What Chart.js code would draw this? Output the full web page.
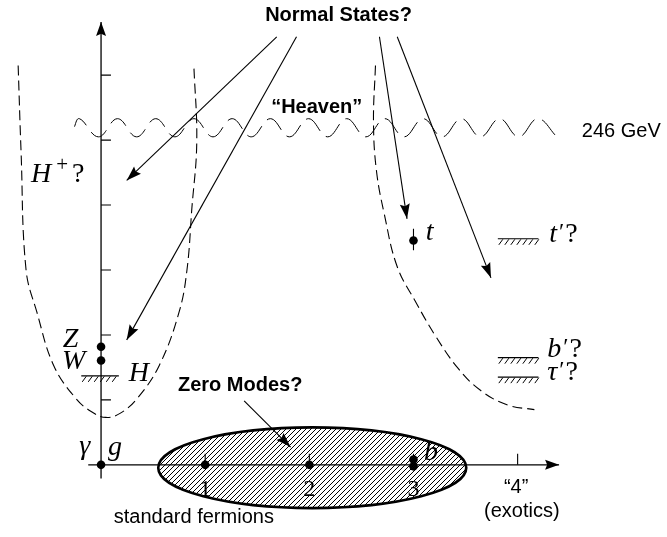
<!DOCTYPE html>
<html lang="en">
<head>
<meta charset="UTF-8">
<title>Normal States and Zero Modes</title>
<script src="https://cdn.jsdelivr.net/npm/chart.js"></script>
<style>
  html, body { margin: 0; padding: 0; background: #fff; }
</style>
</head>
<body>
<canvas id="diagram" width="667" height="537"></canvas>
<script>
// x = generation number, y = mass level (in units of the axis ticks)
const yTicks = [1, 2, 3, 4, 5, 6];
const xTicks = [1, 2, 3, 4];
const genNames = ['1', '2', '3'];

// "246 GeV" wiggly line
const waveX = [-0.265, -0.209, -0.025, 0.158, 0.342, 0.525, 0.709, 0.892, 1.075, 1.259, 1.442, 1.626, 1.809,
               1.992, 2.176, 2.359, 2.543, 2.726, 2.909, 3.093, 3.276, 3.460, 3.643, 3.827, 4.010, 4.193, 4.377];
const waveY = [5.17, 5.33, 5.05, 5.33, 5.05, 5.33, 5.05, 5.33, 5.05, 5.33, 5.05, 5.33, 5.05,
               5.33, 5.05, 5.33, 5.05, 5.33, 5.05, 5.33, 5.05, 5.33, 5.05, 5.33, 5.05, 5.33, 5.05];

// dashed potential wells
const wellLX = [-0.796, -0.768, -0.720, -0.616, -0.455, -0.246, -0.095, 0.047, 0.190, 0.351, 0.559, 0.749, 0.825, 0.872, 0.919, 0.891];
const wellLY = [6.15, 4.82, 3.00, 2.35, 1.53, 1.03, 0.82, 0.73, 0.80, 1.03, 1.53, 2.35, 3.00, 3.95, 4.97, 6.15];
const wellRX = [2.635, 2.616, 2.645, 2.720, 2.844, 3.024, 3.213, 3.431, 3.649, 3.905, 4.161];
const wellRY = [6.15, 5.27, 4.52, 3.86, 3.05, 2.50, 1.98, 1.48, 1.14, 0.92, 0.85];

// arrows from "Normal States?" and "Zero Modes?"
const arrowFromX = [1.687, 1.877, 2.673, 2.844, 1.374];
const arrowFromY = [6.591, 6.591, 6.591, 6.591, 0.985];
const arrowToX   = [0.246, 0.246, 2.938, 3.744, 1.820];
const arrowToY   = [4.379, 1.924, 3.788, 2.879, 0.273];

// observed states (dots): Z, W, photon/gluon, gen 1, gen 2, b (two), top
const dotX = [0, 0, 0, 1, 2, 3, 3, 3.0];
const dotY = [1.818, 1.606, 0, 0, 0, 0.083, -0.023, 3.455];

// hatched levels (bounds): H, t', b', tau'
const levelX0 = [-0.19, 3.81, 3.81, 3.81];
const levelX1 = [0.171, 4.20, 4.20, 4.20];
const levelY  = [1.37, 3.48, 1.65, 1.35];

// zero-mode ellipse: centre and radii
const ellipseC = [2.028, -0.045];
const ellipseR = [1.479, 0.621];

const X_MIN = -0.929, X_MAX = 5.393, Y_MIN = -1.045, Y_MAX = 7.091;

const SANS = '"Liberation Sans", Arial, Helvetica, sans-serif';
const SERIF = '"Liberation Serif", "Times New Roman", serif';

const sansLabels = [
  { text: 'Normal States?', x: 2.280, y: 6.833, bold: true, align: 'center' },
  { text: '\u201CHeaven\u201D', x: 2.071, y: 5.424, bold: true, align: 'center' },
  { text: '246 GeV', x: 4.616, y: 5.045, align: 'left' },
  { text: 'Zero Modes?', x: 1.336, y: 1.136, bold: true, align: 'center' },
  { text: 'standard fermions', x: 0.891, y: -0.894, align: 'center' },
  { text: '\u201C4\u201D', x: 3.986, y: -0.44, align: 'center' },
  { text: '(exotics)', x: 4.04, y: -0.803, align: 'center' }
];

const mathLabels = [
  { x: -0.673, y: 4.36, align: 'left', parts: [['H', 'i', 5], ['+', 'sup', 4], ['?', 'r', 0]] },
  { x: -0.218, y: 1.818, align: 'right', parts: [['Z', 'i', 0]] },
  { x: -0.152, y: 1.47, align: 'right', parts: [['W', 'i', 0]] },
  { x: 0.265, y: 1.288, align: 'left', parts: [['H', 'i', 0]] },
  { x: -0.104, y: 0.17, align: 'right', parts: [['\u03B3', 'i', 0]] },
  { x: 0.066, y: 0.15, align: 'left', parts: [['g', 'i', 0]] },
  { x: 3.118, y: 3.455, align: 'left', parts: [['t', 'i', 0]] },
  { x: 4.303, y: 3.424, align: 'left', parts: [['t', 'i', 2], ['\u2032', 'p', 1], ['?', 'r', 0]] },
  { x: 4.284, y: 1.667, align: 'left', parts: [['b', 'i', 2], ['\u2032', 'p', 1], ['?', 'r', 0]] },
  { x: 4.284, y: 1.303, align: 'left', parts: [['\u03C4', 'i', 2], ['\u2032', 'p', 1], ['?', 'r', 0]] },
  { x: 3.100, y: 0.076, align: 'left', parts: [['b', 'i', 0]] }
];

const zip = (xs, ys) => xs.map((x, i) => ({ x: x, y: ys[i] }));

function seg(points, extra) {
  return Object.assign({
    type: 'line', data: points, borderColor: '#000', borderWidth: 1.1,
    pointRadius: 0, tension: 0, fill: false
  }, extra || {});
}

const datasets = [];
// axes
datasets.push(seg([{ x: 0, y: -0.21 }, { x: 0, y: 6.82 }], { borderWidth: 1.3, arrow: { len: 14, half: 5 } }));
datasets.push(seg([{ x: -0.123, y: 0 }, { x: 4.398, y: 0 }], { borderWidth: 1.3, arrow: { len: 14, half: 5 } }));
yTicks.forEach(v => datasets.push(seg([{ x: 0, y: v }, { x: 0.095, y: v }])));
xTicks.forEach(v => datasets.push(seg([{ x: v, y: 0 }, { x: v, y: 0.17 }])));
// wiggle and wells
datasets.push(seg(zip(waveX, waveY), { borderWidth: 1, tension: 0.4, borderDash: [19.7, 8.2], borderDashOffset: -2.7 }));
datasets.push(seg(zip(wellLX, wellLY), { tension: 0.4, borderDash: [10, 5] }));
datasets.push(seg(zip(wellRX, wellRY), { tension: 0.4, borderDash: [10, 5] }));
// arrows
arrowFromX.forEach((x, i) => datasets.push(seg([{ x: x, y: arrowFromY[i] }, { x: arrowToX[i], y: arrowToY[i] }],
  { arrow: { len: 15, half: 5 } })));
// t marker bar
datasets.push(seg([{ x: 3.0, y: 3.303 }, { x: 3.0, y: 3.636 }]));
// hatched levels
levelY.forEach((y, i) => datasets.push(seg([{ x: levelX0[i], y: y }, { x: levelX1[i], y: y }], { hatch: true })));
// dots
datasets.push({
  type: 'scatter', data: zip(dotX, dotY), pointRadius: 4.3, pointBackgroundColor: '#000',
  pointBorderColor: '#000', pointBorderWidth: 0, showLine: false
});

function hatchPattern(ctx) {
  const c = document.createElement('canvas');
  c.width = 5; c.height = 5;
  const p = c.getContext('2d');
  p.strokeStyle = '#000';
  p.lineWidth = 1;
  p.beginPath();
  p.moveTo(0, 5); p.lineTo(5, 0);
  p.moveTo(-1, 1); p.lineTo(1, -1);
  p.moveTo(4, 6); p.lineTo(6, 4);
  p.stroke();
  return ctx.createPattern(c, 'repeat');
}

const ellipsePlugin = {
  id: 'zeroModes',
  beforeDatasetsDraw(chart) {
    const ctx = chart.ctx, sx = chart.scales.x, sy = chart.scales.y;
    ctx.save();
    // generation numbers sit under the hatching
    ctx.fillStyle = '#000';
    ctx.font = '24px ' + SERIF;
    ctx.textAlign = 'center';
    genNames.forEach((g, i) => ctx.fillText(g, sx.getPixelForValue(i + 1), sy.getPixelForValue(-0.485)));
    const cx = sx.getPixelForValue(ellipseC[0]), cy = sy.getPixelForValue(ellipseC[1]);
    const rx = sx.getPixelForValue(ellipseC[0] + ellipseR[0]) - cx;
    const ry = cy - sy.getPixelForValue(ellipseC[1] + ellipseR[1]);
    ctx.beginPath();
    ctx.ellipse(cx, cy, rx, ry, 0, 0, Math.PI * 2);
    ctx.fillStyle = hatchPattern(ctx);
    ctx.fill();
    ctx.lineWidth = 2.6;
    ctx.strokeStyle = '#000';
    ctx.stroke();
    ctx.restore();
  }
};

const marksPlugin = {
  id: 'marks',
  afterDatasetsDraw(chart) {
    const ctx = chart.ctx;
    ctx.save();
    ctx.fillStyle = '#000';
    ctx.strokeStyle = '#000';
    chart.data.datasets.forEach((ds, i) => {
      const pts = chart.getDatasetMeta(i).data;
      if (ds.arrow) {
        const a = pts[pts.length - 2], b = pts[pts.length - 1];
        const ang = Math.atan2(b.y - a.y, b.x - a.x);
        ctx.save();
        ctx.translate(b.x, b.y);
        ctx.rotate(ang);
        ctx.beginPath();
        ctx.moveTo(0, 0);
        ctx.lineTo(-ds.arrow.len, -ds.arrow.half);
        ctx.lineTo(-ds.arrow.len * 0.85, 0);
        ctx.lineTo(-ds.arrow.len, ds.arrow.half);
        ctx.closePath();
        ctx.fill();
        ctx.restore();
      }
      if (ds.hatch) {
        const a = pts[0], b = pts[1];
        ctx.lineWidth = 1;
        ctx.beginPath();
        for (let x = a.x + 5; x <= b.x + 0.5; x += 6) {
          ctx.moveTo(x, a.y + 0.5);
          ctx.lineTo(x - 4, a.y + 6);
        }
        ctx.stroke();
      }
    });
    ctx.restore();
  },
  afterDraw(chart) {
    const ctx = chart.ctx, sx = chart.scales.x, sy = chart.scales.y;
    ctx.save();
    ctx.fillStyle = '#000';
    ctx.textBaseline = 'alphabetic';
    sansLabels.forEach(l => {
      ctx.font = (l.bold ? 'bold ' : '') + '20px ' + SANS;
      ctx.textAlign = l.align;
      ctx.fillText(l.text, sx.getPixelForValue(l.x), sy.getPixelForValue(l.y));
    });
    const fonts = {
      i: ['italic 28px ' + SERIF, 0],
      r: ['28px ' + SERIF, 0],
      sup: ['21px ' + SERIF, -11],
      p: ['24px ' + SERIF, -3]
    };
    ctx.textAlign = 'left';
    mathLabels.forEach(l => {
      let w = 0;
      l.parts.forEach(p => { ctx.font = fonts[p[1]][0]; w += ctx.measureText(p[0]).width + p[2]; });
      let x = sx.getPixelForValue(l.x) - (l.align === 'right' ? w : 0);
      const y = sy.getPixelForValue(l.y);
      l.parts.forEach(p => {
        ctx.font = fonts[p[1]][0];
        ctx.fillText(p[0], x, y + fonts[p[1]][1]);
        x += ctx.measureText(p[0]).width + p[2];
      });
    });
    ctx.restore();
  }
};

new Chart(document.getElementById('diagram'), {
  type: 'scatter',
  data: { datasets: datasets },
  options: {
    responsive: false,
    animation: false,
    devicePixelRatio: 1,
    layout: { padding: 0 },
    plugins: { legend: { display: false }, tooltip: { enabled: false } },
    scales: {
      x: { type: 'linear', min: X_MIN, max: X_MAX, display: false },
      y: { type: 'linear', min: Y_MIN, max: Y_MAX, display: false }
    }
  },
  plugins: [ellipsePlugin, marksPlugin]
});
</script>
</body>
</html>
